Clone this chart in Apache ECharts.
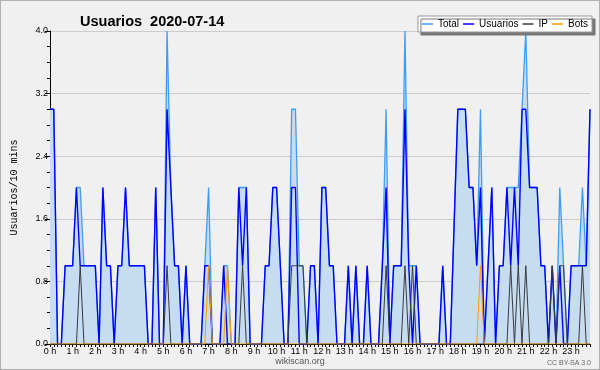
<!DOCTYPE html>
<html><head><meta charset="utf-8">
<script src="https://cdn.jsdelivr.net/npm/echarts@6/dist/echarts.min.js"></script>
<style>html,body{margin:0;padding:0;background:#f0f0f0;}#c{width:598px;height:368px;border:1px solid #b0b0b0;}</style>
</head><body><div id="c"></div>
<script>
const hourLabels = ['0 h','1 h','2 h','3 h','4 h','5 h','6 h','7 h','8 h','9 h','10 h','11 h','12 h','13 h','14 h','15 h','16 h','17 h','18 h','19 h','20 h','21 h','22 h','23 h'];
const yTicks = [0, 0.8, 1.6, 2.4, 3.2, 4.0];
const total = [
 3,3,0,0,1,1,1,2,2,1,1,1,
 1,0,2,1,1,0,1,1,2,1,1,1,
 1,1,0,0,2,0,0,4,2,1,1,0,
 1,0,0,0,0,1,2,0,0,0,1,1,
 0,0,2,2,2,0,0,0,0,1,1,2,
 2,1,0,0,3,3,1,1,0,1,1,0,
 2,2,1,1,0,0,0,1,0,1,0,0,
 1,0,0,0,1,3,0,1,1,1,4,1,
 1,1,0,0,0,0,0,0,1,0,0,1.5,
 3,3,3,2,2,1,3,0,1,2,0,1,
 1,2,2,2,2,3,4,2,2,2,1,1,
 0,1,0,2,1,0,1,1,1,2,1,3];
const usuarios = [
 3,3,0,0,1,1,1,2,1,1,1,1,
 1,0,2,1,1,0,1,1,2,1,1,1,
 1,1,0,0,2,0,0,3,2,1,1,0,
 1,0,0,0,0,1,1,0,0,0,1,0,
 0,0,2,1,2,0,0,0,0,1,1,2,
 2,1,0,0,2,2,0,0,0,1,1,0,
 2,2,1,1,0,0,0,1,0,1,0,0,
 1,0,0,0,1,2,0,1,1,1,3,1,
 0,1,0,0,0,0,0,0,1,0,0,1.5,
 3,3,3,2,2,1,2,0,1,2,0,1,
 1,2,1,2,1,3,3,2,2,2,1,1,
 0,1,0,1,0,0,1,1,1,1,1,3];
const ip = [
 0,0,0,0,0,0,0,0,1,0,0,0,
 0,0,0,0,0,0,0,0,0,0,0,0,
 0,0,0,0,0,0,0,1,0,0,0,0,
 0,0,0,0,0,0,0,0,0,0,0,0,
 0,0,0,1,0,0,0,0,0,0,0,0,
 0,0,0,0,1,1,1,1,0,0,0,0,
 0,0,0,0,0,0,0,0,0,0,0,0,
 0,0,0,0,0,1,0,0,0,0,1,0,
 1,0,0,0,0,0,0,0,0,0,0,0,
 0,0,0,0,0,0,0,0,0,0,0,0,
 0,0,1,0,1,0,1,0,0,0,0,0,
 0,1,0,1,1,0,0,0,0,1,0,0];
const bots = [
 0,0,0,0,0,0,0,0,0,0,0,0,
 0,0,0,0,0,0,0,0,0,0,0,0,
 0,0,0,0,0,0,0,0,0,0,0,0,
 0,0,0,0,0,0,1,0,0,0,0,1,
 0,0,0,0,0,0,0,0,0,0,0,0,
 0,0,0,0,0,0,0,0,0,0,0,0,
 0,0,0,0,0,0,0,0,0,0,0,0,
 0,0,0,0,0,0,0,0,0,0,0,0,
 0,0,0,0,0,0,0,0,0,0,0,0,
 0,0,0,0,0,0,1,0,0,0,0,0,
 0,0,0,0,0,0,0,0,0,0,0,0,
 0,0,0,0,0,0,0,0,0,0,0,0];
const categories = [];
hourLabels.forEach(h => { for (let k = 0; k < 6; k++) categories.push(k === 0 ? h : ''); });

const chart = echarts.init(document.getElementById('c'));
const fontF = '"Liberation Sans", Arial, sans-serif';
function line(name, data, color, width, z, area) {
  const s = {name, type:'line', data, symbol:'none', z, lineStyle:{color, width}, itemStyle:{color}, animation:false};
  if (area) s.areaStyle = {color:'#c6ddf1', opacity:1};
  return s;
}
chart.setOption({
  backgroundColor:'#f0f0f0',
  animation:false,
  title:{text:'Usuarios  2020-07-14', left:74, top:8, textStyle:{fontFamily:fontF, fontSize:14.5, fontWeight:'bold', color:'#000'}},
  legend:{right:7, top:15, icon:'rect', itemWidth:11, itemHeight:1.5, itemGap:4,
    backgroundColor:'#fff', borderColor:'#999', borderWidth:1, padding:[3,4,3,4],
    shadowColor:'#777', shadowBlur:0, shadowOffsetX:3, shadowOffsetY:3,
    textStyle:{fontFamily:fontF, fontSize:10, color:'#000'},
    data:['Total','Usuarios','IP','Bots']},
  grid:{left:45, right:9, top:30, bottom:25, containLabel:false},
  xAxis:{type:'category', data:categories, boundaryGap:false,
    axisLine:{lineStyle:{color:'#000', width:1}},
    axisTick:{interval:0, length:3, lineStyle:{color:'#000'}},
    axisLabel:{interval:0, fontFamily:fontF, fontSize:9, color:'#000', margin:3},
    splitLine:{show:false}},
  yAxis:{type:'value', min:yTicks[0], max:yTicks[yTicks.length-1], interval:0.8,
    name:'Usuarios/10 mins', nameLocation:'middle', nameGap:31, nameRotate:90,
    nameTextStyle:{fontFamily:'"Liberation Mono", "DejaVu Sans Mono", monospace', fontSize:10, color:'#000'},
    axisLine:{show:true, lineStyle:{color:'#000'}},
    axisTick:{show:true, length:5, lineStyle:{color:'#000'}},
    minorTick:{show:true, splitNumber:4, length:3, lineStyle:{color:'#000'}},
    axisLabel:{fontFamily:fontF, fontSize:9, color:'#000', margin:2, formatter:v => v.toFixed(1)},
    splitLine:{show:true, lineStyle:{color:'#cccccc', width:1}}},
  series:[
    line('Total', total, '#3d9df2', 1.3, 2, true),
    line('Usuarios', usuarios, '#0000ff', 1.4, 3),
    line('IP', ip, '#3a3a3a', 1, 4),
    line('Bots', bots, '#ff9900', 1, 5)
  ],
  graphic:[
    {type:'text', left:'center', top:356, style:{text:'wikiscan.org', font:'9px "Liberation Sans", sans-serif', fill:'#555'}},
    {type:'text', right:8, top:359, style:{text:'CC BY-SA 3.0', font:'7px "Liberation Sans", sans-serif', fill:'#666'}}
  ]
});
</script></body></html>
